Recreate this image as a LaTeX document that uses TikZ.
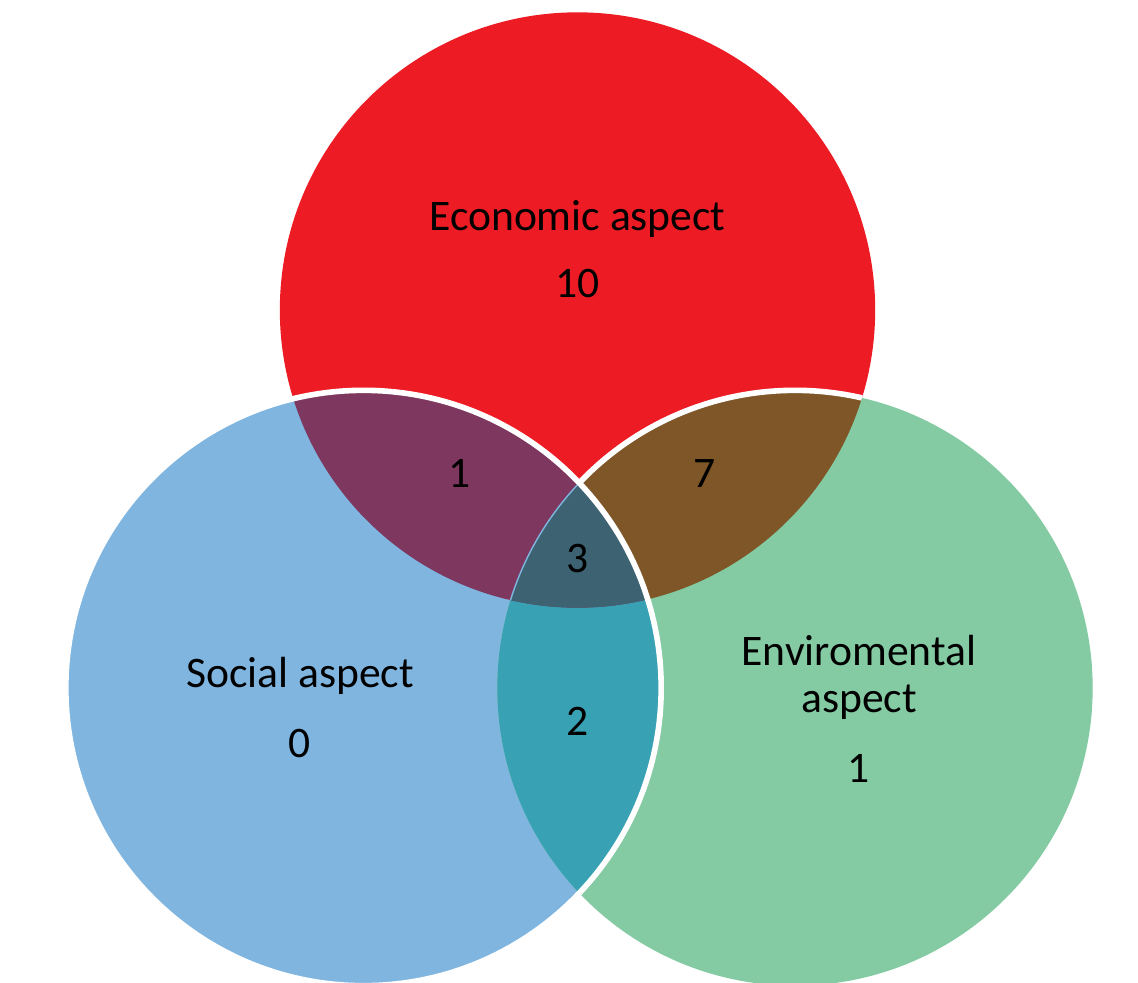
\documentclass[tikz,border=0pt]{standalone}
\usepackage{fontspec}
\setmainfont{Carlito}
\definecolor{ecored}{HTML}{ED1C24}
\definecolor{socblue}{HTML}{7FB5DF}
\definecolor{envgreen}{HTML}{84CBA3}
\definecolor{ecosoc}{HTML}{7E375E}
\definecolor{ecoenv}{HTML}{7E5627}
\definecolor{socenv}{HTML}{38A2B4}
\definecolor{allthree}{HTML}{3D6272}
\tikzset{
	aspect/.style={font=\fontsize{31}{34}\selectfont, inner sep=0pt, anchor=base},
	rim/.style={draw=white, line width=4pt}
}
\def\rad{7.44cm}

\begin{document}
\begin{tikzpicture}[x=0.025cm, y=-0.025cm]
	\useasboundingbox (0,0) rectangle (1138,982);
	\coordinate (eco) at (577.5,310);
	\coordinate (soc) at (363.5,688);
	\coordinate (env) at (795,688);
	% circles
	\fill[ecored] (eco) circle (\rad);
	\fill[socblue] (soc) circle (\rad);
	\fill[envgreen] (env) circle (\rad);
	% overlaps
	\begin{scope}
		\clip (eco) circle (\rad);
		\fill[ecoenv] (env) circle (\rad);
		\draw[rim] (env) circle (\rad);
	\end{scope}
	\begin{scope}
		\clip (soc) circle (\rad);
		\fill[socenv] (env) circle (\rad);
		\clip (eco) circle (\rad);
		\fill[ecosoc] (soc) circle (\rad);
		\clip (env) circle (\rad);
		\fill[allthree] (env) circle (\rad);
	\end{scope}
	\begin{scope}
		\clip (eco) circle (\rad);
		\clip (soc) circle (\rad);
		\draw[socblue, line width=1pt] (env) circle (\rad);
	\end{scope}
	\draw[rim] (soc) circle (\rad);
	% labels
	\node[aspect] (econame) at (577.5,230) {Economic aspect};
	\node[aspect] (econum) at (577.5,297) {10};
	\node[aspect] (socname) at (300,687) {Social aspect};
	\node[aspect] (socnum) at (300,757) {0};
	\node[aspect] (envname) at (859,665) {Enviromental};
	\node[aspect] (envname2) at (859,712) {aspect};
	\node[aspect] (envnum) at (859,782) {1};
	\node[aspect] (ecosocnum) at (460,487) {1};
	\node[aspect] (ecoenvnum) at (705,487) {7};
	\node[aspect] (allnum) at (577.5,572) {3};
	\node[aspect] (socenvnum) at (577.5,735) {2};
\end{tikzpicture}
\end{document}
